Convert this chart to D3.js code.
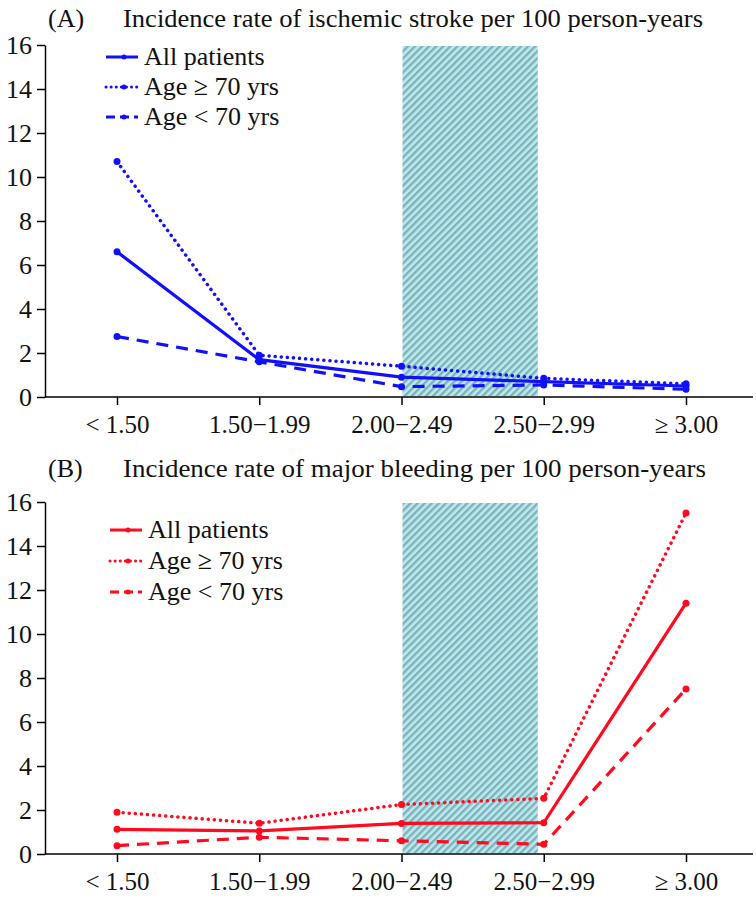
<!DOCTYPE html>
<html>
<head>
<meta charset="utf-8">
<script src="https://cdn.jsdelivr.net/npm/d3@7"></script>
<style>
  body { margin: 0; background: #fff; }
  svg { display: block; font-family: "Liberation Serif", "Times New Roman", serif; }
</style>
</head>
<body>
<div id="chart"></div>
<script>
// categories of INR groups
const categories = ["< 1.50", "1.50\u22121.99", "2.00\u22122.49", "2.50\u22122.99", "\u2265 3.00"];
const yTicks = [0, 2, 4, 6, 8, 10, 12, 14, 16];
const shadedRange = ["2.00\u22122.49", "2.50\u22122.99"];

// panel A: ischemic stroke
const strokeAll = [6.6, 1.7, 0.9, 0.7, 0.5];
const strokeOld = [10.7, 1.9, 1.4, 0.85, 0.6];
const strokeYoung = [2.75, 1.6, 0.47, 0.55, 0.35];

// panel B: major bleeding
const bleedAll = [1.12, 1.05, 1.39, 1.42, 11.4];
const bleedOld = [1.9, 1.4, 2.25, 2.53, 15.5];
const bleedYoung = [0.38, 0.76, 0.6, 0.44, 7.5];

const seriesNames = ["All patients", "Age \u2265 70 yrs", "Age < 70 yrs"];

const W = 756, H = 900;
const svg = d3.select("#chart").append("svg")
   .attr("width", W)
   .attr("height", H);

const defs = svg.append("defs");
const pat = defs.append("pattern")
   .attr("id", "hatch")
   .attr("patternUnits", "userSpaceOnUse")
   .attr("width", 5)
   .attr("height", 5)
   .attr("patternTransform", "rotate(45)");
pat.append("rect").attr("width", 5).attr("height", 5).attr("fill", "#b4eef2");
pat.append("rect").attr("width", 2.4).attr("height", 5).attr("fill", "#86aeb6");

const dashes = [null, "0.1 6", "12 8"];

const x = d3.scalePoint()
   .domain(categories)
   .range([117, 686]);

function panel(opts) {
   const g = svg.append("g");
   const y = d3.scaleLinear().domain([0, 16]).range([opts.bottom, opts.top]);

   // target range shading
   g.append("rect")
      .attr("x", x(shadedRange[0]) + 1)
      .attr("y", y(16) + 1)
      .attr("width", x(shadedRange[1]) - x(shadedRange[0]) - 7)
      .attr("height", y(0) - y(16) - 2)
      .attr("fill", "url(#hatch)");

   // y axis
   const ya = g.append("g")
      .attr("transform", "translate(45,0)")
      .call(d3.axisLeft(y).tickValues(yTicks).tickSize(8).tickSizeOuter(0).tickPadding(5));
   ya.select(".domain").attr("stroke", "#000").attr("stroke-width", 1.5);
   ya.selectAll(".tick line").attr("stroke-width", 1.5);
   ya.selectAll(".tick text").attr("font-size", 26).attr("font-family", "Liberation Serif").attr("fill", "#111");

   // x axis
   const xa = g.append("g")
      .attr("transform", `translate(0,${y(0)})`)
      .call(d3.axisBottom(x).tickSize(8).tickPadding(10));
   xa.select(".domain").remove();
   xa.selectAll(".tick line").attr("stroke-width", 1.5);
   xa.selectAll(".tick text").attr("font-size", 25).attr("font-family", "Liberation Serif").attr("fill", "#111");
   g.append("line")
      .attr("x1", 45).attr("x2", 753)
      .attr("y1", y(0)).attr("y2", y(0))
      .attr("stroke", "#000").attr("stroke-width", 1.5);

   const line = d3.line()
      .x((d, i) => x(categories[i]))
      .y(d => y(d));

   opts.series.forEach((vals, k) => {
      g.append("path")
         .datum(vals)
         .attr("d", line)
         .attr("fill", "none")
         .attr("stroke", opts.color)
         .attr("stroke-width", k == 1 ? 3.5 : 3.2)
         .attr("stroke-linecap", k == 1 ? "round" : "butt")
         .attr("stroke-dasharray", dashes[k]);
      g.selectAll(null)
         .data(vals)
         .enter()
         .append("circle")
         .attr("cx", (d, i) => x(categories[i]))
         .attr("cy", d => y(d))
         .attr("r", 3.5)
         .attr("fill", opts.color);
   });

   // title
   g.append("text")
      .attr("x", 48).attr("y", opts.titleY)
      .attr("font-size", 26).attr("fill", "#111")
      .text(opts.label);
   g.append("text")
      .attr("x", 123).attr("y", opts.titleY)
      .attr("font-size", 26).attr("fill", "#111")
      .attr("textLength", opts.titleLen)
      .attr("lengthAdjust", "spacingAndGlyphs")
      .text(opts.title);

   // legend
   const lg = g.append("g");
   seriesNames.forEach((name, k) => {
      const ly = opts.legendY + k * opts.legendGap;
      lg.append("line")
         .attr("x1", opts.legendX).attr("x2", opts.legendX + 32)
         .attr("y1", ly).attr("y2", ly)
         .attr("stroke", opts.color)
         .attr("stroke-width", 3)
         .attr("stroke-linecap", k == 1 ? "round" : "butt")
         .attr("stroke-dasharray", k == 1 ? "0.1 5" : (k == 2 ? "9 5" : null));
      lg.append("circle")
         .attr("cx", opts.legendX + 18).attr("cy", ly).attr("r", 2.5)
         .attr("fill", opts.color);
      lg.append("text")
         .attr("x", opts.legendX + 38).attr("y", ly + 8)
         .attr("font-size", 26).attr("fill", "#111")
         .text(name);
   });
}

panel({
   top: 45, bottom: 397,
   color: "#1010ff",
   series: [strokeAll, strokeOld, strokeYoung],
   label: "(A)",
   title: "Incidence rate of ischemic stroke per 100 person-years",
   titleY: 27, titleLen: 580,
   legendX: 106, legendY: 57, legendGap: 30
});

panel({
   top: 502, bottom: 854,
   color: "#ff0a1e",
   series: [bleedAll, bleedOld, bleedYoung],
   label: "(B)",
   title: "Incidence rate of major bleeding per 100 person-years",
   titleY: 477, titleLen: 583,
   legendX: 110, legendY: 530, legendGap: 31
});
</script>
</body>
</html>
